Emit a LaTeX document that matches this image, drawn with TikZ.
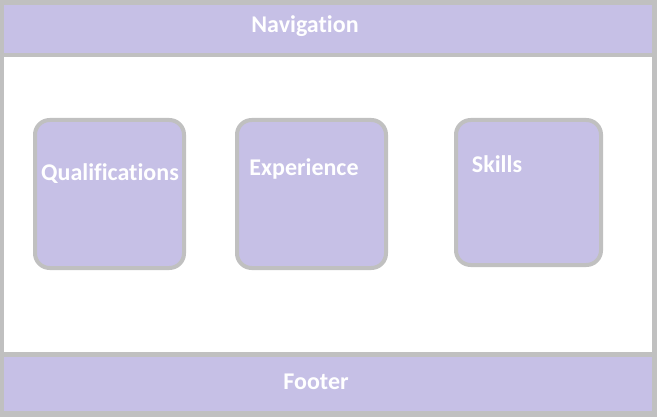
\documentclass[tikz,border=0pt]{standalone}
\usepackage{fontspec}
\setmainfont[Ligatures=CommonOff]{Carlito}
\usepackage{xcolor}
\usepackage{tikz}
\usetikzlibrary{positioning,calc}
\definecolor{lilac}{RGB}{198,192,230}
\definecolor{framegray}{RGB}{192,192,192}
\tikzset{
  bar/.style={rectangle,fill=lilac,inner sep=0pt,minimum width=486pt,minimum height=36pt},
  card/.style={rectangle,rounded corners=11pt,draw=framegray,line width=3pt,fill=lilac,
               inner sep=0pt,minimum width=111.75pt,minimum height=111pt},
  lbl/.style={anchor=base,text=white,inner sep=0pt,font=\bfseries\fontsize{18}{21}\selectfont},
}
\begin{document}
\begin{tikzpicture}[x=0.75pt,y=-0.75pt]
  % page frame
  \fill[framegray] (0,0) rectangle (657,417);
  \fill[white] (4,57) rectangle (652,352);

  % header and footer bars
  \node[bar] (nav) at (328,29) {};
  \node[bar,minimum height=40.5pt] (foot) at (328,384) {};
  \node[lbl] (navt) at (305,33) {Navigation};
  \node[lbl] (foott) at (316,389) {Footer};

  % content cards
  \node[card] (qual) at (109.5,194) {};
  \node[card] (exp) at (311.5,194) {};
  \node[card,minimum width=108.75pt,minimum height=108.75pt] (skill) at (528.5,192.5) {};
  \node[lbl] (qualt) at (110,181) {Qualifications};
  \node[lbl] (expt) at (304,176) {Experience};
  \node[lbl] (skillt) at (497,173) {Skills};
\end{tikzpicture}
\end{document}
